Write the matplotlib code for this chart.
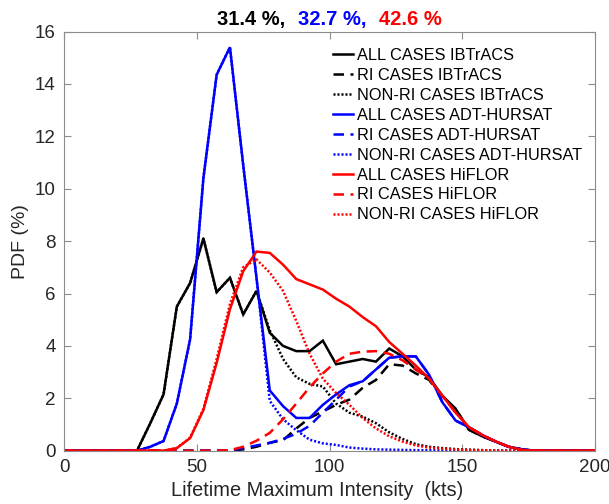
import matplotlib
matplotlib.use("Agg")
import matplotlib.pyplot as plt
from matplotlib.offsetbox import TextArea, HPacker, AnchoredOffsetbox

plt.rcParams['font.family'] = ['Liberation Sans', 'DejaVu Sans']

# Intensity bin centres (kts); endpoints 0 and 200 added to span the axis
kts = [0, 27.5, 32.5, 37.5, 42.5, 47.5, 52.5, 57.5, 62.5, 67.5, 72.5, 77.5,
       82.5, 87.5, 92.5, 97.5, 102.5, 107.5, 112.5, 117.5, 122.5, 127.5,
       132.5, 137.5, 142.5, 147.5, 152.5, 157.5, 162.5, 167.5, 172.5, 177.5,
       182.5, 200]

ibtracs_all = [0, 0, 1.05, 2.15, 5.5, 6.4, 8.1, 6.05, 6.6, 5.2, 6.1, 4.5,
               4.0, 3.8, 3.8, 4.2, 3.3, 3.4, 3.5, 3.4, 3.9, 3.6,
               3.1, 2.8, 2.1, 1.6, 0.8, 0.55, 0.35, 0.15, 0.05, 0, 0, 0]
ibtracs_ri = [0, 0, 0, 0, 0, 0, 0, 0, 0, 0.05, 0.15, 0.3,
              0.4, 0.85, 1.25, 1.5, 1.75, 1.95, 2.4, 2.7, 3.3, 3.25,
              2.95, 2.7, 2.05, 1.6, 0.8, 0.55, 0.35, 0.15, 0.05, 0, 0, 0]
ibtracs_nonri = [0, 0, 1.05, 2.15, 5.5, 6.4, 8.1, 6.05, 6.6, 5.2, 6.1, 4.6,
                 3.5, 2.8, 2.55, 2.45, 1.8, 1.45, 1.3, 1.05, 0.7, 0.45,
                 0.25, 0.15, 0.1, 0.06, 0.04, 0.02, 0, 0, 0, 0, 0, 0]

adt_all = [0, 0, 0.15, 0.37, 1.8, 4.25, 10.4, 14.35, 15.4, 10.9, 6.6, 2.3,
           1.7, 1.25, 1.25, 1.75, 2.15, 2.5, 2.65, 3.1, 3.55, 3.6,
           3.6, 2.9, 1.85, 1.15, 0.9, 0.6, 0.35, 0.15, 0.05, 0, 0, 0]
adt_ri = [0, 0, 0, 0, 0, 0, 0, 0, 0, 0.1, 0.2, 0.3,
          0.45, 0.65, 0.95, 1.45, 1.95, 2.45, 2.65, 3.1, 3.55, 3.6,
          3.6, 2.9, 1.85, 1.15, 0.9, 0.6, 0.35, 0.15, 0.05, 0, 0, 0]
adt_nonri = [0, 0, 0.15, 0.37, 1.8, 4.25, 10.4, 14.35, 15.4, 10.9, 6.6, 1.9,
             1.2, 0.78, 0.42, 0.28, 0.22, 0.12, 0.08, 0.05, 0.04, 0.03,
             0.02, 0.02, 0.01, 0, 0, 0, 0, 0, 0, 0, 0, 0]

hiflor_all = [0, 0, 0, 0, 0.1, 0.48, 1.55, 3.35, 5.4, 6.85, 7.6, 7.55,
              7.1, 6.55, 6.35, 6.15, 5.8, 5.5, 5.1, 4.75, 4.15, 3.7,
              3.25, 2.75, 2.1, 1.45, 0.9, 0.6, 0.36, 0.15, 0.03, 0, 0, 0]
hiflor_ri = [0, 0, 0, 0, 0, 0, 0, 0, 0.02, 0.15, 0.38, 0.68,
             1.2, 1.8, 2.42, 2.95, 3.4, 3.7, 3.78, 3.8, 3.7, 3.45,
             3.1, 2.75, 2.1, 1.45, 0.9, 0.6, 0.36, 0.15, 0.03, 0, 0, 0]
hiflor_nonri = [0, 0, 0, 0, 0.1, 0.5, 1.6, 3.5, 5.6, 7.0, 7.3, 6.8,
                6.1, 4.95, 3.7, 2.75, 2.2, 1.75, 1.25, 0.85, 0.55, 0.35,
                0.2, 0.12, 0.08, 0.05, 0.03, 0.02, 0.01, 0, 0, 0, 0, 0]

labels = ["ALL CASES IBTrACS", "RI CASES IBTrACS", "NON-RI CASES IBTrACS",
          "ALL CASES ADT-HURSAT", "RI CASES ADT-HURSAT", "NON-RI CASES ADT-HURSAT",
          "ALL CASES HiFLOR", "RI CASES HiFLOR", "NON-RI CASES HiFLOR"]
title_parts = ["31.4 %,", "32.7 %,", "42.6 %"]

xticks = [0, 50, 100, 150, 200]
yticks = [0, 2, 4, 6, 8, 10, 12, 14, 16]

fig = plt.figure(figsize=(6.09, 5.04), dpi=100)
ax = fig.add_axes([64/609, 1-450.7/504, (595-64)/609, (450.7-31.5)/504])

colors = ['#000000', '#0000ff', '#ff0000']
groups = [(ibtracs_all, ibtracs_ri, ibtracs_nonri),
          (adt_all, adt_ri, adt_nonri),
          (hiflor_all, hiflor_ri, hiflor_nonri)]
lw = 1.8
i = 0
for c, (a, r, n) in zip(colors, groups):
    ax.plot(kts, a, color=c, lw=lw, solid_joinstyle='miter', label=labels[i])
    ax.plot(kts, r, color=c, lw=lw, dashes=(4.2, 2.6), label=labels[i+1])
    ax.plot(kts, n, color=c, lw=lw, linestyle=(0, (0.8, 0.8)), label=labels[i+2])
    i += 3

ax.set_xlim(0, 200)
ax.set_ylim(0, 16)
ax.set_xticks(xticks)
ax.set_yticks(yticks)
ax.tick_params(direction='in', length=5, width=0.8, top=True, right=True,
               labelsize=13.5, colors='#8c8c8c', labelcolor='#262626', pad=6)
for s in ax.spines.values():
    s.set_color('#8c8c8c')
    s.set_linewidth(0.8)

ax.set_xlabel("Lifetime Maximum Intensity  (kts)", fontsize=14.4, color='#262626')
ax.xaxis.set_label_coords((317-64)/531, (450.7-481)/419.2)
ax.set_ylabel("PDF (%)", fontsize=14, color='#262626', labelpad=4)

leg = ax.legend(loc='upper left', bbox_to_anchor=((333-64)/531, (450.7-48)/419.2),
                frameon=False, fontsize=11.8, handlelength=1.25, handletextpad=0.2,
                labelspacing=0.3, borderpad=0, borderaxespad=0)
for t in leg.get_texts():
    t.set_color('#000000')

boxes = [TextArea(t, textprops=dict(color=c, fontsize=14.5, fontweight='bold'))
         for t, c in zip(title_parts, colors)]
pack = HPacker(children=boxes, align='baseline', pad=0, sep=9)
anch = AnchoredOffsetbox(loc='lower center', child=pack, pad=0, frameon=False,
                         bbox_to_anchor=(0.5, 1.0), bbox_transform=ax.transAxes,
                         borderpad=0.2)
ax.add_artist(anch)

fig.savefig("out.png", dpi=100)
